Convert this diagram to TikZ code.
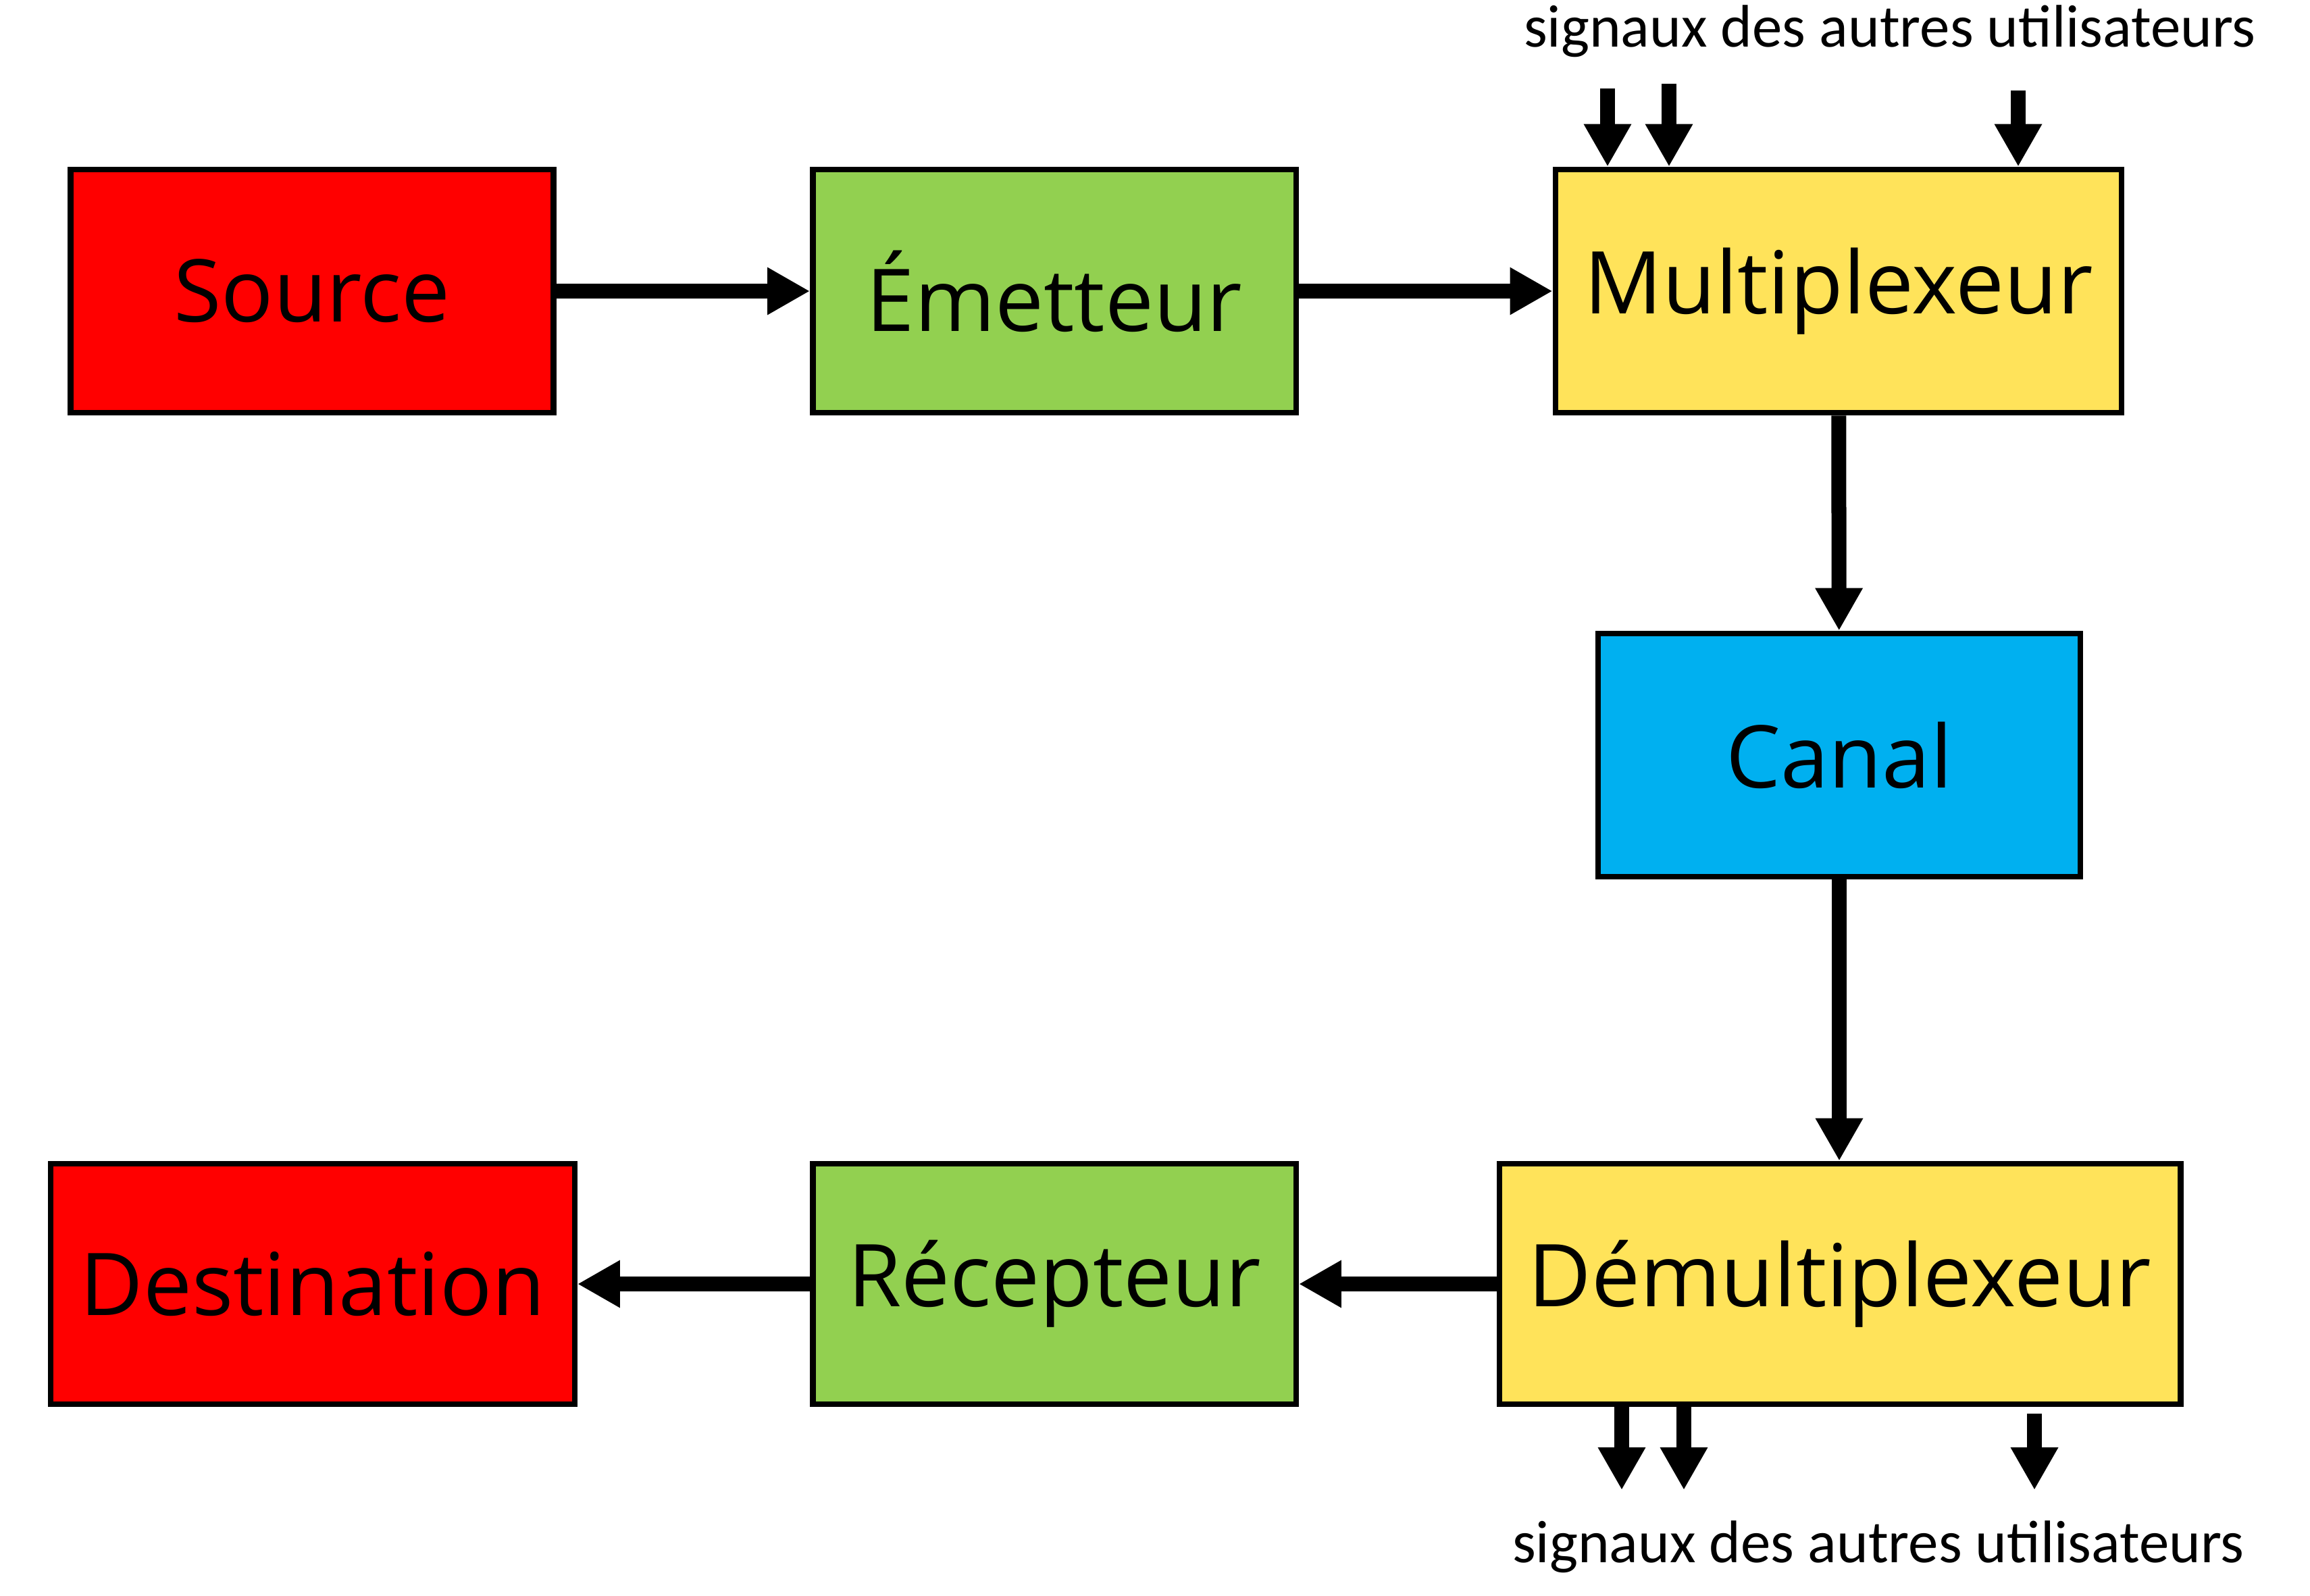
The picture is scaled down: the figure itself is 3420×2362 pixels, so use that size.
\documentclass[tikz,border=0pt]{standalone}
\usepackage{fontspec}
\setmainfont{Carlito}
\newfontfamily\boxfont{Open Sans}
\usetikzlibrary{arrows.meta}
\definecolor{srcred}{HTML}{FF0000}
\definecolor{txgreen}{HTML}{92D050}
\definecolor{muxyellow}{HTML}{FFE35A}
\definecolor{chblue}{HTML}{00B0F0}
\begin{document}
\begin{tikzpicture}[x=0.01cm, y=-0.01cm,
  blk/.style={draw, line width=2.4pt, inner sep=0pt, minimum height=3.6cm,
    font=\boxfont\fontsize{36.5}{42}\selectfont},
  flow/.style={line width=0.22cm, -{Triangle[length=0.63cm, width=0.66cm]}},
  sig/.style={flow},
  lbl/.style={font=\fontsize{25.3}{30}\selectfont}]
\useasboundingbox (0,0) rectangle (3420,2362);
\node[blk, fill=srcred, minimum width=7.15cm] (src) at (462,431) {Source};
\node[blk, fill=txgreen, minimum width=7.15cm] (tx) at (1561,431) {Émetteur};
\node[blk, fill=muxyellow, minimum width=8.38cm] (mux) at (2722,431) {Multiplexeur};
\node[blk, fill=chblue, minimum width=7.14cm] (ch) at (2723,1118) {Canal};
\node[blk, fill=muxyellow, minimum width=10.08cm, minimum height=3.56cm] (demux) at (2724,1901) {Démultiplexeur};
\node[blk, fill=txgreen, minimum width=7.15cm, minimum height=3.56cm] (rx) at (1561,1901) {Récepteur};
\node[blk, fill=srcred, minimum width=7.75cm, minimum height=3.56cm] (dst) at (463,1901) {Destination};
\draw[flow] (src) -- (tx);
\draw[flow] (tx) -- (mux);
\draw[flow] (mux) -- (ch);
\draw[flow] (ch) -- (demux.north -| ch);
\draw[flow] (demux) -- (rx);
\draw[flow] (rx) -- (dst);
% signaux en entree / sortie
\node[lbl] (intxt) at (2798,46) {signaux des autres utilisateurs};
\node[lbl] (outtxt) at (2781,2290) {signaux des autres utilisateurs};
\coordinate (in1) at (2380,131);
\coordinate (in2) at (2471,124);
\coordinate (in3) at (2988,134);
\draw[sig] (in1) -- (in1 |- mux.north);
\draw[sig] (in2) -- (in2 |- mux.north);
\draw[sig] (in3) -- (in3 |- mux.north);
\coordinate (out1) at (2401,2206);
\coordinate (out2) at (2493,2206);
\coordinate (out3) at (3012,2206);
\draw[sig] (out1 |- demux.south) -- (out1);
\draw[sig] (out2 |- demux.south) -- (out2);
\draw[sig] ([yshift=-0.1cm]out3 |- demux.south) -- (out3);
\end{tikzpicture}
\end{document}
